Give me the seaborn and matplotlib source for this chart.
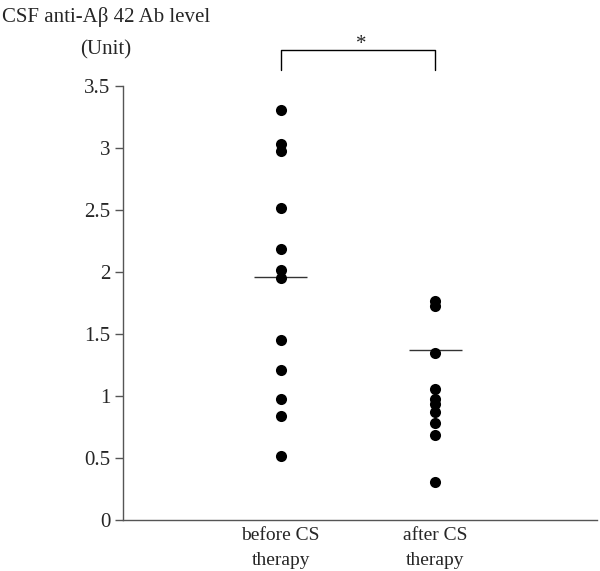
import matplotlib
matplotlib.use("Agg")
import matplotlib.pyplot as plt
import numpy as np
import pandas as pd
import seaborn as sns

# values (Unit)
groups = ["before CS\ntherapy", "after CS\ntherapy"]
before_cs = [3.31, 3.03, 2.98, 2.52, 2.19, 2.02, 1.95, 1.45, 1.21, 0.98, 0.84, 0.52]
after_cs = [1.77, 1.73, 1.35, 1.06, 0.98, 0.94, 0.87, 0.78, 0.69, 0.31]
group_means = [1.96, 1.37]
yticks = [0, 0.5, 1, 1.5, 2, 2.5, 3, 3.5]
ytick_labels = ["0", "0.5", "1", "1.5", "2", "2.5", "3", "3.5"]

df = pd.DataFrame({
    "group": [groups[0]] * len(before_cs) + [groups[1]] * len(after_cs),
    "value": before_cs + after_cs,
})

sns.set_style("white")
plt.rcParams["font.family"] = ["Liberation Serif", "DejaVu Serif"]

fig = plt.figure(figsize=(6, 5.71), dpi=100)
ax = fig.add_axes([0.205, 0.089, 0.79, 0.76])

sns.stripplot(data=df, x="group", y="value", order=groups, jitter=False,
              color="black", size=8, linewidth=0, ax=ax)

# mean bars
for i, m in enumerate(group_means):
    ax.hlines(m, i - 0.17, i + 0.17, color="#333333", linewidth=1)

ax.set_xlim(-1.02, 2.045)
ax.set_ylim(0, 3.5)
ax.set_yticks(yticks)
ax.set_yticklabels(ytick_labels, fontsize=15)
ax.set_xticks(range(len(groups)))
ax.set_xticklabels(groups, fontsize=14, linespacing=1.6)
ax.set_xlabel("")
ax.set_ylabel("")

for side in ["top", "right"]:
    ax.spines[side].set_visible(False)
for side in ["left", "bottom"]:
    ax.spines[side].set_color("#555555")
    ax.spines[side].set_linewidth(1)
ax.tick_params(axis="y", direction="out", length=6, width=1, color="#555555",
               left=True, pad=3)
ax.tick_params(axis="x", length=0, pad=5)

# significance bracket
ax.plot([0, 0, 1, 1], [3.63, 3.79, 3.79, 3.63], color="black", linewidth=1,
        clip_on=False)
ax.text(0.52, 3.76, "*", ha="center", va="bottom", fontsize=15)

fig.text(0.003, 0.97, "CSF anti-A\u03b2 42 Ab level", fontsize=15, va="center")
fig.text(0.133, 0.913, "(Unit)", fontsize=15, va="center")

fig.savefig("out.png", dpi=100)
